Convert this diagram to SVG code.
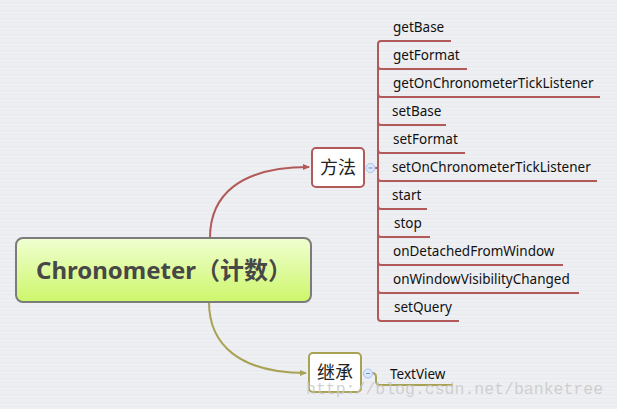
<svg xmlns="http://www.w3.org/2000/svg" width="617" height="409" viewBox="0 0 617 409">
<defs>
<pattern id="bg" width="8" height="4" patternUnits="userSpaceOnUse">
<rect width="8" height="4" fill="#eeeff2"/>
<rect y="2" width="8" height="1" fill="#e9eaee"/>
</pattern>
<linearGradient id="rootg" x1="0" y1="0" x2="0" y2="1">
<stop offset="0" stop-color="#f0ffd2"/>
<stop offset="1" stop-color="#cdf66a"/>
</linearGradient>
<marker id="arrR" markerWidth="8" markerHeight="8" refX="6" refY="4" orient="auto" markerUnits="userSpaceOnUse">
<path d="M0,1 L7,4 L0,7 Z" fill="#b55858"/>
</marker>
<marker id="arrO" markerWidth="8" markerHeight="8" refX="6" refY="4" orient="auto" markerUnits="userSpaceOnUse">
<path d="M0,1 L7,4 L0,7 Z" fill="#a8a255"/>
</marker>
</defs>
<style>
.lbl{font-family:"Noto Sans","Liberation Sans",sans-serif;font-size:13.5px;fill:#111}
.red{fill:none;stroke:#b25a5a;stroke-width:2}
.olive{fill:none;stroke:#a8a255;stroke-width:2}
.cn{font-family:"Noto Sans CJK SC",sans-serif;font-size:18px;fill:#222;text-anchor:middle}
.tog{fill:#dce8fb;stroke:#a9c1ec;stroke-width:1}
.togm{stroke:#6f8fcf;stroke-width:1}
</style>
<rect width="617" height="409" fill="url(#bg)"/>

<g id="connectors">
<path class="red" d="M210,238 C210,195 240,167 309,167" marker-end="url(#arrR)"/>
<path class="olive" d="M209,302 C209,345 240,373 306,373" marker-end="url(#arrO)"/>
<path class="red" d="M374,168 H378"/>
<path class="red" d="M378,44 V318"/>
<path class="red" d="M378,44 Q378,41 381,41 H451"/>
<path class="red" d="M378,66 Q378,69 381,69 H467"/>
<path class="red" d="M378,94 Q378,97 381,97 H600"/>
<path class="red" d="M378,122 Q378,125 381,125 H446"/>
<path class="red" d="M378,150 Q378,153 381,153 H465"/>
<path class="red" d="M378,178 Q378,181 381,181 H597"/>
<path class="red" d="M378,206 Q378,209 381,209 H427"/>
<path class="red" d="M378,234 Q378,237 381,237 H430"/>
<path class="red" d="M378,262 Q378,265 381,265 H563"/>
<path class="red" d="M378,290 Q378,293 381,293 H579"/>
<path class="red" d="M378,318 Q378,321 381,321 H459"/>
<path class="olive" d="M372,373 Q376,373 376,377 V381 Q376,385 380,385 H453"/>
</g>

<g id="root">
<rect x="16" y="238" width="295" height="64" rx="7" fill="url(#rootg)" stroke="#7b7b7b" stroke-width="2"/>
<text x="164" y="279" text-anchor="middle" font-family="'Noto Sans','Noto Sans CJK SC',sans-serif" font-size="24" font-weight="bold" fill="#474747">Chronometer（计数）</text>
</g>

<g id="methods">
<rect x="312" y="148" width="52" height="39" rx="4" fill="#fff" stroke="#b25a5a" stroke-width="2"/>
<text class="cn" x="338" y="174">方法</text>
<circle class="tog" cx="370.5" cy="168" r="4.5"/>
<line class="togm" x1="368.5" y1="168" x2="372.5" y2="168"/>
</g>

<g id="inherit">
<rect x="309" y="353" width="52" height="39" rx="4" fill="#fff" stroke="#a8a255" stroke-width="2"/>
<text class="cn" x="335" y="379">继承</text>
<circle class="tog" cx="368" cy="373.5" r="4.5"/>
<line class="togm" x1="366" y1="373.5" x2="370" y2="373.5"/>
</g>

<g id="m-getBase"><text class="lbl" x="393" y="32">getBase</text></g>
<g id="m-getFormat"><text class="lbl" x="393" y="60">getFormat</text></g>
<g id="m-getOnTick"><text class="lbl" x="393" y="88">getOnChronometerTickListener</text></g>
<g id="m-setBase"><text class="lbl" x="392" y="116">setBase</text></g>
<g id="m-setFormat"><text class="lbl" x="393" y="144">setFormat</text></g>
<g id="m-setOnTick"><text class="lbl" x="392" y="172">setOnChronometerTickListener</text></g>
<g id="m-start"><text class="lbl" x="392" y="200">start</text></g>
<g id="m-stop"><text class="lbl" x="394" y="228">stop</text></g>
<g id="m-onDetached"><text class="lbl" x="393" y="256">onDetachedFromWindow</text></g>
<g id="m-onWindow"><text class="lbl" x="393" y="284">onWindowVisibilityChanged</text></g>
<g id="m-setQuery"><text class="lbl" x="394" y="312">setQuery</text></g>
<g id="c-textview"><text class="lbl" x="390" y="379">TextView</text></g>

<text x="306" y="394" font-family="'Liberation Mono',monospace" font-size="16.5" fill="#c9c9c9" fill-opacity="0.85">http://blog.csdn.net/banketree</text>
</svg>
